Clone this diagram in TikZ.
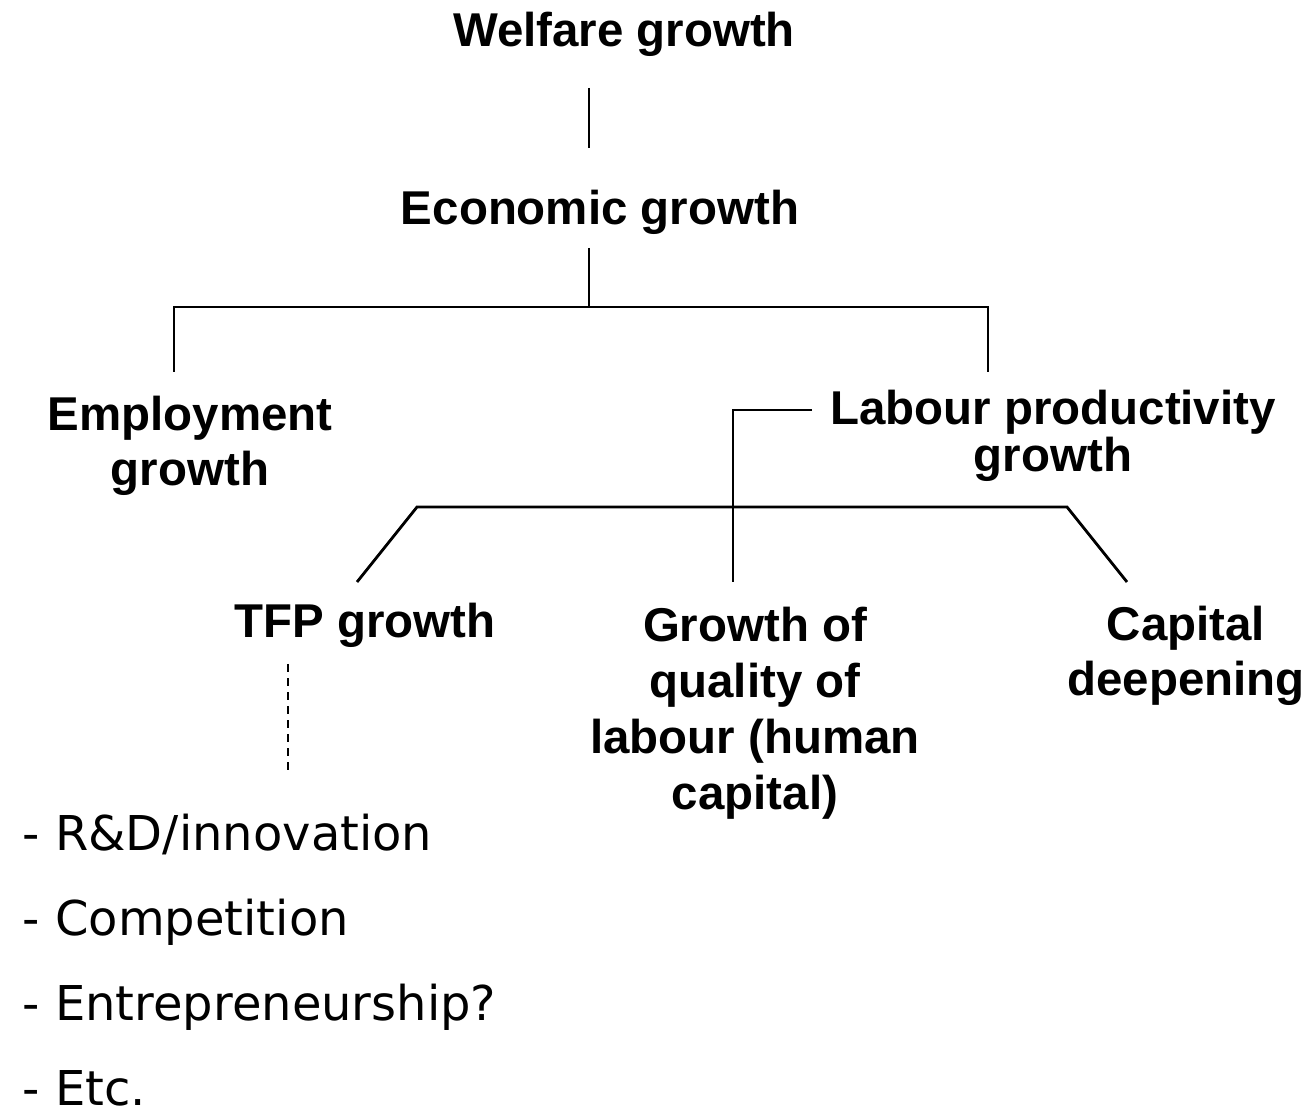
\documentclass[tikz,border=0pt]{standalone}
\usepackage{fontspec}
\setmainfont{Liberation Sans}
\newfontfamily\listfont{DejaVu Sans}

\tikzset{
  heading/.style={font=\fontsize{13.5}{15.9}\selectfont\bfseries, inner sep=0pt, align=center, anchor=base},
  item/.style={font=\listfont\fontsize{13.65}{16}\selectfont, inner sep=0pt, anchor=base west},
  branch/.style={line width=0.8pt},
}

\begin{document}
\begin{tikzpicture}
        \useasboundingbox (0,0) rectangle (13.10,-11.12);

        % Growth headings (base = last line)
        \node[heading] (welfare) at (6.24,-0.47) {Welfare growth};
        \node[heading] (econ) at (6.00,-2.25) {Economic growth};
        \node[heading] (employ) at (1.90,-4.86) {Employment\\growth};
        \node[heading, font=\fontsize{13.5}{11.4}\selectfont\bfseries] (labour) at (10.53,-4.72) {Labour productivity\\growth};
        \node[heading] (tfp) at (3.65,-6.38) {TFP growth};
        \node[heading] (quality) at (7.55,-8.09) {Growth of\\quality of\\labour (human\\capital)};
        \node[heading] (capital) at (11.86,-6.96) {Capital\\deepening};

        % Welfare to economic growth
        \coordinate (w1) at (5.89,-0.88);
        \coordinate (w2) at (5.89,-1.48);
        \draw[branch] (w1) -- (w2);

        % Economic growth splits in two
        \coordinate (e1) at (5.89,-2.48);
        \coordinate (e2) at (5.89,-3.07);
        \coordinate (eL) at (1.74,-3.72);
        \coordinate (eR) at (9.88,-3.72);
        \draw[branch] (e1) -- (e2);
        \draw[branch] (eL) |- (e2) -| (eR);

        % Labour productivity and its three sources
        \coordinate (p1) at (8.12,-4.10);
        \coordinate (p2) at (7.33,-5.82);
        \draw[branch] (p1) -| (p2);
        \coordinate (t1) at (3.57,-5.82);
        \coordinate (t2) at (4.17,-5.07);
        \coordinate (t3) at (10.67,-5.07);
        \coordinate (t4) at (11.27,-5.82);
        \draw[branch] (t1) -- (t2) -- (t3) -- (t4);

        % Drivers of TFP
        \coordinate (d1) at (2.88,-6.64);
        \coordinate (d2) at (2.88,-7.70);
        \draw[line width=0.6pt, dash pattern=on 2.3pt off 1.7pt] (d1) -- (d2);

        \node[item] (rd) at (0.22,-8.50) {- R\&D/innovation};
        \node[item] (comp) at (0.22,-9.35) {- Competition};
        \node[item] (entre) at (0.22,-10.20) {- Entrepreneurship?};
        \node[item] (etc) at (0.22,-11.05) {- Etc.};
    \end{tikzpicture}
\end{document}
